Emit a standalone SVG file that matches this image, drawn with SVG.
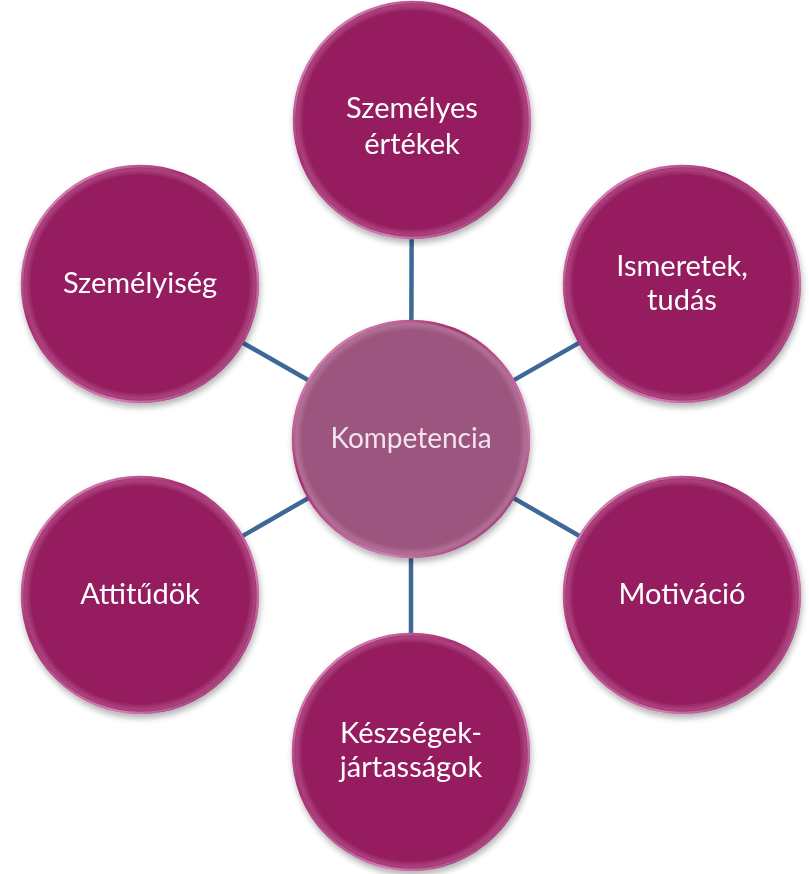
<svg xmlns="http://www.w3.org/2000/svg" width="809" height="874" viewBox="0 0 809 874">
<defs>
<linearGradient id="rim" x1="0" y1="0" x2="1" y2="1">
<stop offset="0" stop-color="#f2b4dc"/>
<stop offset="0.35" stop-color="#a52a6e"/>
<stop offset="0.7" stop-color="#d27cb4"/>
<stop offset="1" stop-color="#7a1049"/>
</linearGradient>
<radialGradient id="gloss" cx="0.5" cy="0.5" r="0.5">
<stop offset="0.92" stop-color="#ffffff" stop-opacity="0"/>
<stop offset="0.975" stop-color="#ffd0ee" stop-opacity="0.22"/>
<stop offset="1" stop-color="#ffffff" stop-opacity="0"/>
</radialGradient>
<filter id="sh" x="-20%" y="-20%" width="140%" height="140%">
<feGaussianBlur in="SourceAlpha" stdDeviation="3"/>
<feOffset dx="1" dy="4" result="b"/>
<feComponentTransfer><feFuncA type="linear" slope="0.3"/></feComponentTransfer>
<feMerge><feMergeNode/><feMergeNode in="SourceGraphic"/></feMerge>
</filter>
</defs>
<style>
.outer{fill:#951b5f;stroke:url(#rim);stroke-width:2.5}
.core{fill:#9c547e;stroke:url(#rim);stroke-width:2.5}
.gl{fill:url(#gloss)}
.lbl{font-family:Lato,"Open Sans",sans-serif;font-size:29px;fill:#ffffff;text-anchor:middle}
.clbl{font-family:Lato,"Open Sans",sans-serif;font-size:28px;fill:#f3e3ee;text-anchor:middle}
.con{stroke:#3d6898;stroke-width:4.5;fill:none}
</style>
<rect width="809" height="874" fill="#ffffff"/>
<g id="connectors">
<line class="con" x1="411" y1="439" x2="412" y2="120"/>
<line class="con" x1="411" y1="439" x2="682" y2="284"/>
<line class="con" x1="411" y1="439" x2="682" y2="595"/>
<line class="con" x1="411" y1="439" x2="411" y2="752"/>
<line class="con" x1="411" y1="439" x2="140" y2="595"/>
<line class="con" x1="411" y1="439" x2="140" y2="284"/>
</g>
<g id="center" filter="url(#sh)">
<circle class="core" cx="411" cy="439" r="118"/>
<circle class="gl" cx="411" cy="439" r="118"/>
<text class="clbl" x="411" y="448">Kompetencia</text>
</g>
<g id="szemelyes-ertekek" filter="url(#sh)">
<circle class="outer" cx="412" cy="120" r="118"/>
<circle class="gl" cx="412" cy="120" r="118"/>
<text class="lbl" x="412" y="118">Személyes</text>
<text class="lbl" x="412" y="154">értékek</text>
</g>
<g id="ismeretek-tudas" filter="url(#sh)">
<circle class="outer" cx="682" cy="284" r="118"/>
<circle class="gl" cx="682" cy="284" r="118"/>
<text class="lbl" x="682" y="276">Ismeretek,</text>
<text class="lbl" x="682" y="310">tudás</text>
</g>
<g id="motivacio" filter="url(#sh)">
<circle class="outer" cx="682" cy="595" r="118"/>
<circle class="gl" cx="682" cy="595" r="118"/>
<text class="lbl" x="682" y="604">Motiváció</text>
</g>
<g id="keszsegek-jartassagok" filter="url(#sh)">
<circle class="outer" cx="411" cy="752" r="118"/>
<circle class="gl" cx="411" cy="752" r="118"/>
<text class="lbl" x="411" y="743">Készségek-</text>
<text class="lbl" x="411" y="777">jártasságok</text>
</g>
<g id="attitudok" filter="url(#sh)">
<circle class="outer" cx="140" cy="595" r="118"/>
<circle class="gl" cx="140" cy="595" r="118"/>
<text class="lbl" x="140" y="604">Attitűdök</text>
</g>
<g id="szemelyiseg" filter="url(#sh)">
<circle class="outer" cx="140" cy="284" r="118"/>
<circle class="gl" cx="140" cy="284" r="118"/>
<text class="lbl" x="140" y="293">Személyiség</text>
</g>
</svg>
